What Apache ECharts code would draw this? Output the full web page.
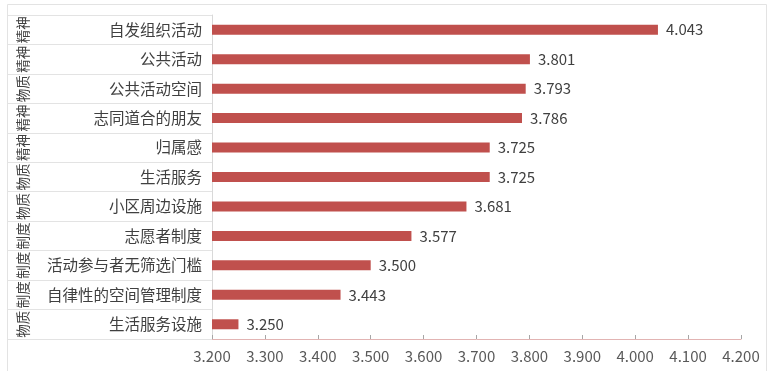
<!DOCTYPE html>
<html>
<head>
<meta charset="utf-8">
<script src="https://cdn.jsdelivr.net/npm/echarts@6/dist/echarts.min.js"></script>
<style>html,body{margin:0;padding:0;background:#fff;}#c{width:772px;height:371px;}</style>
</head>
<body>
<div id="c"></div>
<script>
const categories = ['自发组织活动','公共活动','公共活动空间','志同道合的朋友','归属感','生活服务','小区周边设施','志愿者制度','活动参与者无筛选门槛','自律性的空间管理制度','生活服务设施'];
const groups = ['精神','精神','物质','精神','精神','物质','物质','制度','制度','制度','物质'];
const values = [4.043,3.801,3.793,3.786,3.725,3.725,3.681,3.577,3.500,3.443,3.250];
const xMin = 3.2, xMax = 4.2, xStep = 0.1;

const font = '"Noto Sans CJK SC","Noto Sans",sans-serif';
const chart = echarts.init(document.getElementById('c'), null, {renderer:'canvas'});
chart.setOption({
  animation: false,
  backgroundColor: '#fff',
  graphic: [{
    type: 'rect', silent: true, z: -1,
    shape: {x: 7.5, y: 4.5, width: 759, height: 380},
    style: {fill: 'none', stroke: '#e3e3e3', lineWidth: 1}
  }],
  grid: {left: 212, right: 31, top: 15, bottom: 32, containLabel: false},
  xAxis: {
    type: 'value', min: xMin, max: xMax, interval: xStep,
    axisLine: {show: true, lineStyle: {color: '#e2b4b3', width: 1}},
    axisTick: {show: true, inside: true, length: 4, lineStyle: {color: '#a6a6a6'}},
    splitLine: {show: false},
    axisLabel: {formatter: v => v.toFixed(3), color: '#595959', fontSize: 15, fontFamily: font, margin: 10}
  },
  yAxis: [{
    type: 'category', data: categories, inverse: true,
    axisLine: {show: true, lineStyle: {color: '#d9d9d9'}},
    axisTick: {show: true, length: 205, lineStyle: {color: '#e3e3e3'}},
    axisLabel: {color: '#404040', fontSize: 15.5, fontFamily: font, margin: 10}
  }, {
    type: 'category', data: groups, inverse: true, position: 'left', offset: 205,
    axisLine: {show: false},
    axisTick: {show: false},
    axisLabel: {inside: true, interval: 0, rotate: 90, color: '#404040', fontSize: 13.5, fontFamily: font, margin: 9}
  }],
  series: [{
    type: 'bar', data: values, barWidth: 10, yAxisIndex: 0,
    itemStyle: {color: '#c0504d'},
    label: {show: true, position: 'right', distance: 8, formatter: p => p.value.toFixed(3), color: '#404040', fontSize: 15, fontFamily: font}
  }]
});
</script>
</body>
</html>
